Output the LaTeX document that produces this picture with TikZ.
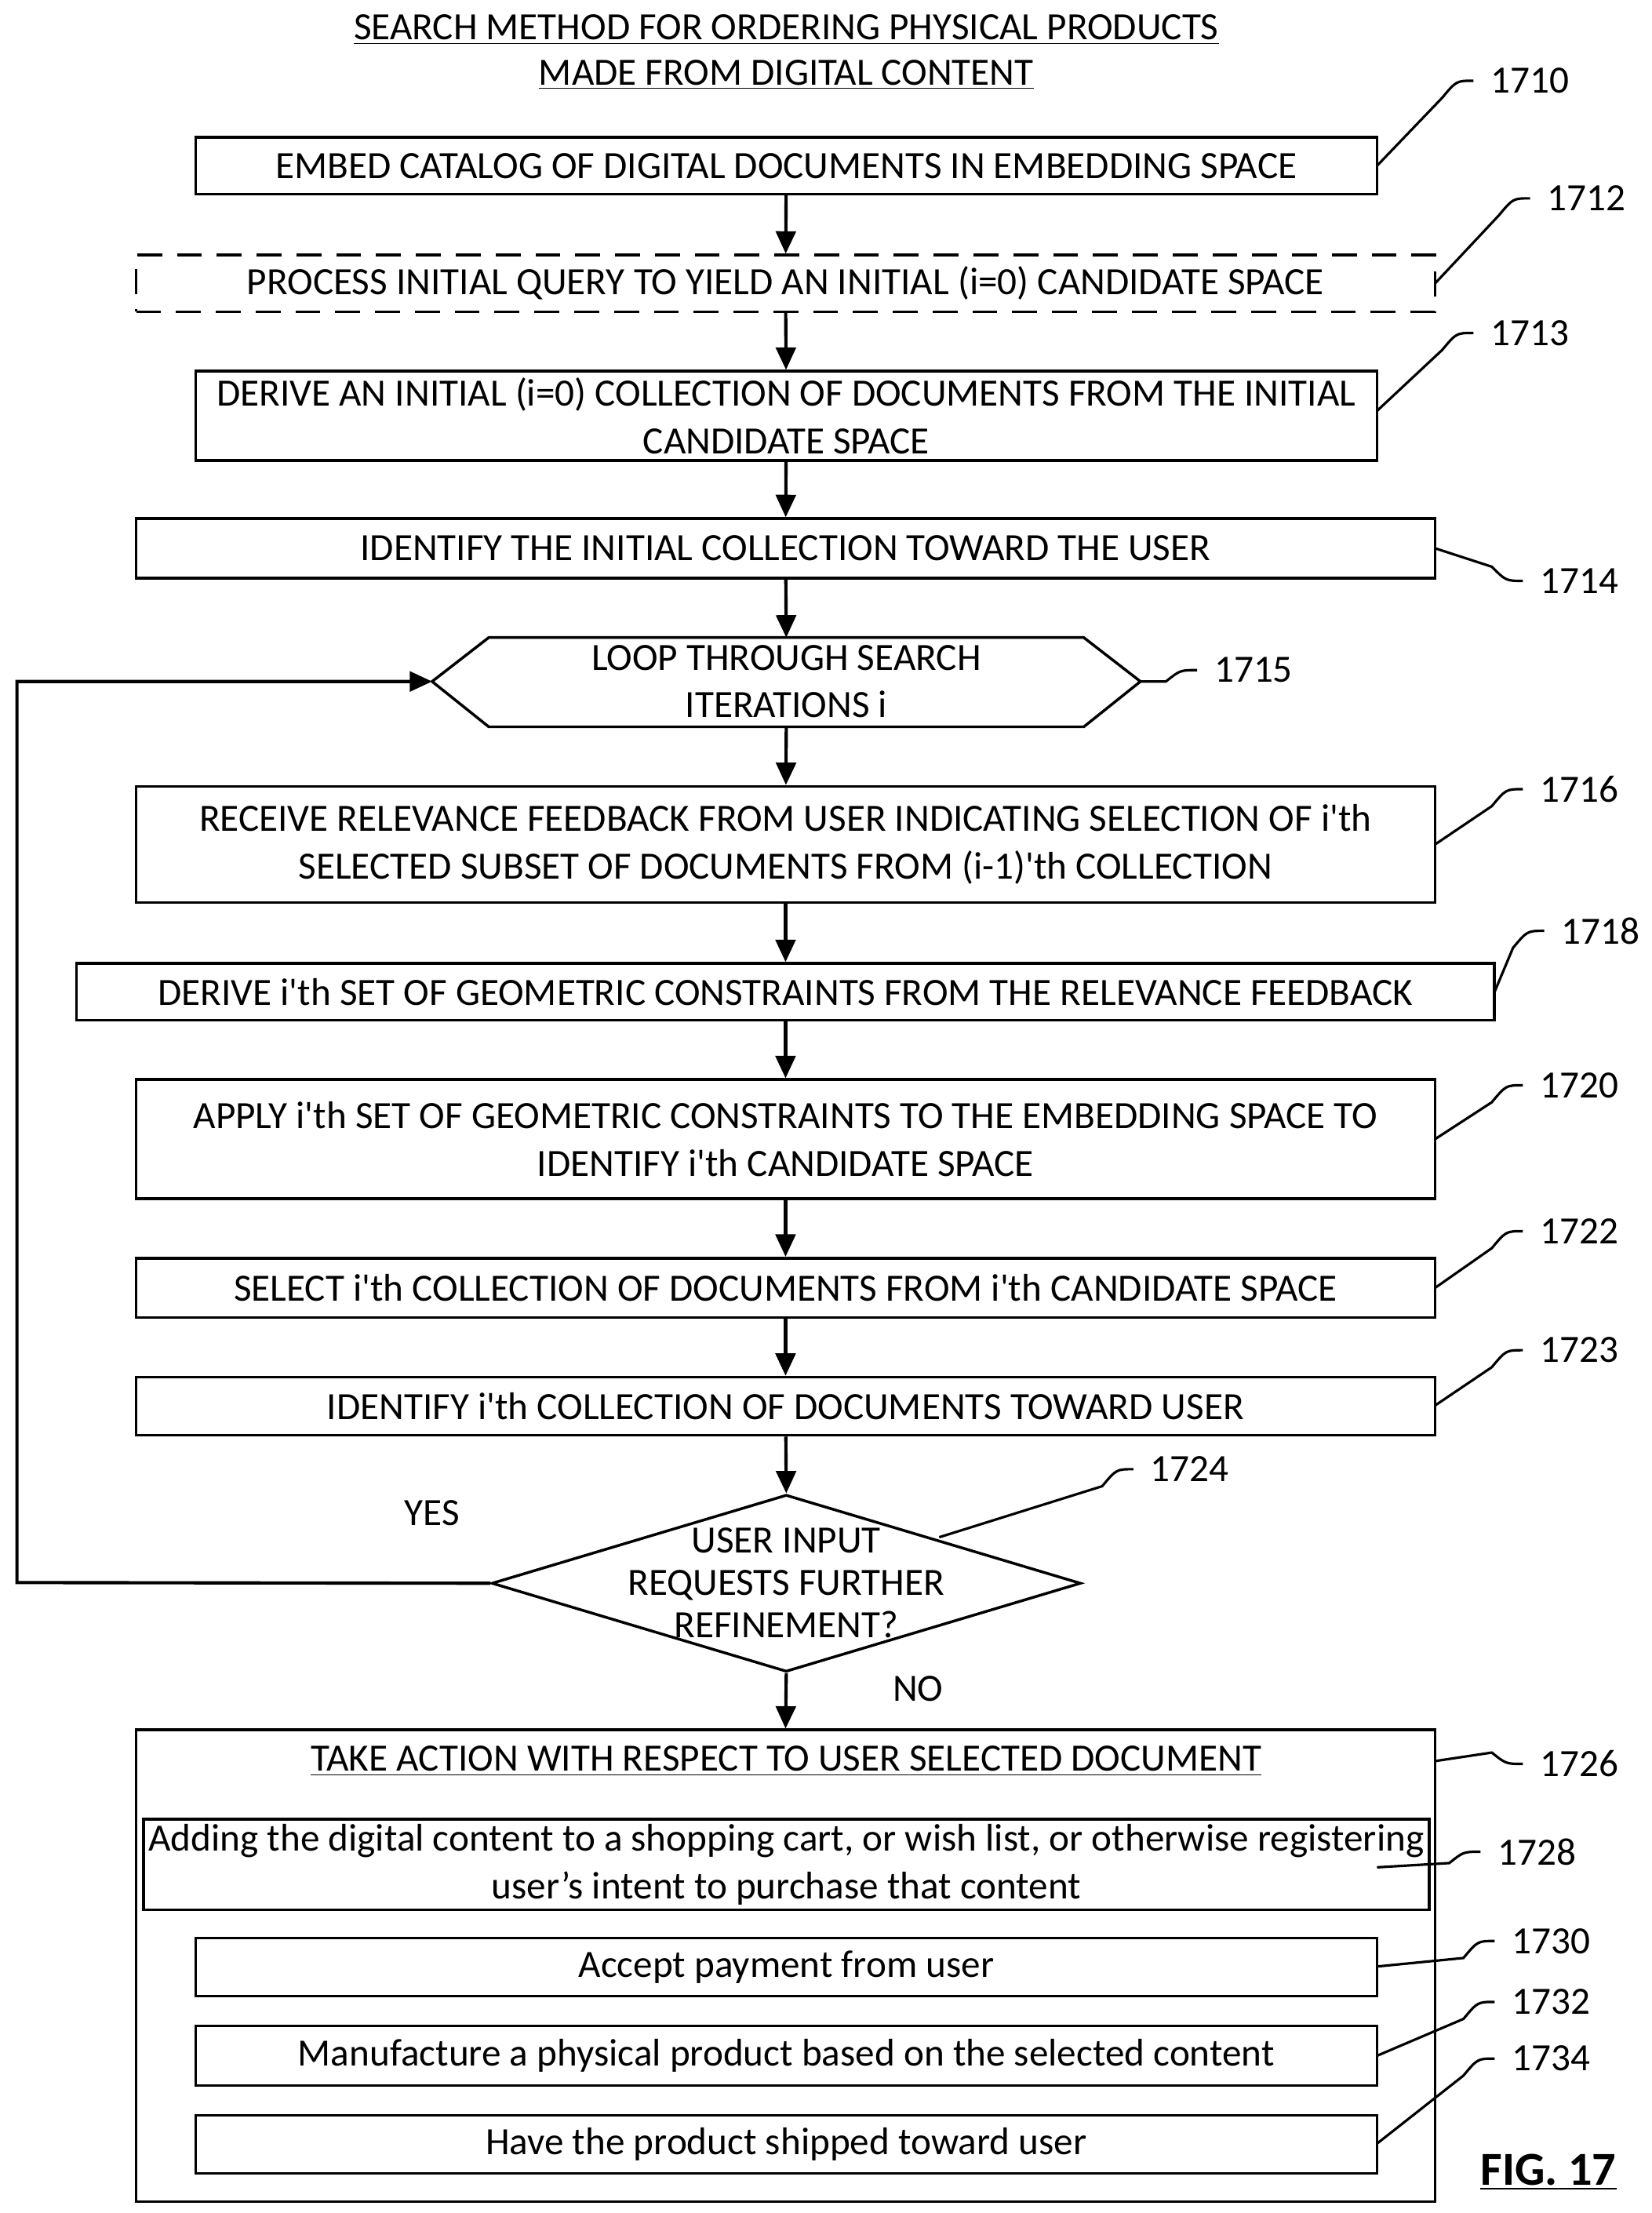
\documentclass[tikz,border=0pt]{standalone}
\usepackage{fontspec}
\setmainfont{Carlito}[Ligatures=TeXOff]
\usetikzlibrary{shapes.geometric,calc,arrows.meta}
\begin{document}
\begin{tikzpicture}[x=0.02cm,y=-0.02cm,
  box/.style={draw,line width=1.1pt,align=center,inner sep=2pt,font=\fontsize{15.5}{19}\selectfont},
  lbl/.style={anchor=west,font=\fontsize{15.5}{19}\selectfont},
  ar/.style={line width=1.3pt,-{Triangle[length=9pt,width=8pt]}},
  ld/.style={line width=1pt}]
\useasboundingbox (0,0) rectangle (1166,1562);
\newcommand\leader[6]{\draw[ld] (#1,#2) -- ($(#3,#4)+(-22,#5)$) .. controls ($(#3,#4)+(-12,0)$) .. (#3,#4); \node[lbl] at ($(#3,#4)+(6,0)$) {#6};}
\node[font=\fontsize{15.5}{19}\selectfont,align=center] (title) at (555,37) {\underline{SEARCH METHOD FOR ORDERING PHYSICAL PRODUCTS}\\[-1pt]\underline{MADE FROM DIGITAL CONTENT}};
\node[box,minimum width=16.68cm,minimum height=0.8cm] (b1710) at (555,117) {EMBED CATALOG OF DIGITAL DOCUMENTS IN EMBEDDING SPACE};
\node[box,dashed,dash pattern=on 10pt off 6pt,minimum width=18.34cm,minimum height=0.8cm] (b1712) at (554.5,200) {PROCESS INITIAL QUERY TO YIELD AN INITIAL (i=0) CANDIDATE SPACE};
\node[box,minimum width=16.68cm,minimum height=1.26cm] (b1713) at (555,293.5) {DERIVE AN INITIAL (i=0) COLLECTION OF DOCUMENTS FROM THE INITIAL\\CANDIDATE SPACE};
\node[box,minimum width=18.34cm,minimum height=0.84cm] (b1714) at (554.5,387) {IDENTIFY THE INITIAL COLLECTION TOWARD THE USER};
\coordinate (hl) at (305,481); \coordinate (hr) at (805,481);
\draw[line width=1.1pt] (hl) -- (345,450) -- (765,450) -- (hr) -- (765,513) -- (345,513) -- cycle;
\node[font=\fontsize{15.5}{19}\selectfont,align=center] (b1715) at (555,481) {LOOP THROUGH SEARCH\\ITERATIONS i};
\coordinate (htop) at (555,450); \coordinate (hbot) at (555,513);
\node[box,minimum width=18.34cm,minimum height=1.64cm] (b1716) at (554.5,596) {RECEIVE RELEVANCE FEEDBACK FROM USER INDICATING SELECTION OF i'th\\SELECTED SUBSET OF DOCUMENTS FROM (i-1)'th COLLECTION};
\node[box,minimum width=20.02cm,minimum height=0.8cm] (b1718) at (554.5,700) {DERIVE i'th SET OF GEOMETRIC CONSTRAINTS FROM THE RELEVANCE FEEDBACK};
\node[box,minimum width=18.34cm,minimum height=1.68cm] (b1720) at (554.5,804) {APPLY i'th SET OF GEOMETRIC CONSTRAINTS TO THE EMBEDDING SPACE TO\\IDENTIFY i'th CANDIDATE SPACE};
\node[box,minimum width=18.34cm,minimum height=0.84cm] (b1722) at (554.5,909) {SELECT i'th COLLECTION OF DOCUMENTS FROM i'th CANDIDATE SPACE};
\node[box,minimum width=18.34cm,minimum height=0.82cm] (b1723) at (554.5,992.5) {IDENTIFY i'th COLLECTION OF DOCUMENTS TOWARD USER};
\node[draw,line width=1.1pt,diamond,minimum width=8.32cm,minimum height=2.5cm,inner sep=0pt] (d1724) at (555,1117.5) {};
\node[font=\fontsize{15.5}{19}\selectfont,align=center] (t1724) at (555,1117) {USER INPUT\\[-2pt]REQUESTS FURTHER\\[-2pt]REFINEMENT?};
\node[box,minimum width=18.34cm,minimum height=6.66cm] (b1726) at (554.5,1387.5) {};
\node[font=\fontsize{15.5}{19}\selectfont] (t1726) at (555,1243) {\underline{TAKE ACTION WITH RESPECT TO USER SELECTED DOCUMENT}};
\node[box,minimum width=16.68cm,minimum height=1.24cm] (b1728) at (555,1316) {Adding the digital content to a shopping cart, or wish list, or otherwise registering\\user’s intent to purchase that content};
\node[box,minimum width=16.68cm,minimum height=0.82cm] (b1730) at (555,1388.5) {Accept payment from user};
\node[box,minimum width=16.68cm,minimum height=0.84cm] (b1732) at (555,1451) {Manufacture a physical product based on the selected content};
\node[box,minimum width=16.68cm,minimum height=0.82cm] (b1734) at (555,1513.5) {Have the product shipped toward user};
\draw[ar] (b1710) -- (b1712);
\draw[ar] (b1712) -- (b1713);
\draw[ar] (b1713) -- (b1714);
\draw[ar] (b1714) -- (htop);
\draw[ar] (hbot) -- (b1716);
\draw[ar] (b1716) -- (b1718);
\draw[ar] (b1718) -- (b1720);
\draw[ar] (b1720) -- (b1722);
\draw[ar] (b1722) -- (b1723);
\draw[ar] (b1723) -- (d1724.north);
\draw[ar] (d1724.south) -- (b1726.north);
\coordinate (lp1) at (12,1117); \coordinate (lp2) at (12,481);
\draw[ar] (d1724.west) -- (lp1) -- (lp2) -- (hl);
\node[font=\fontsize{15.5}{19}\selectfont] (yes) at (305,1068) {YES};
\node[font=\fontsize{15.5}{19}\selectfont] (no) at (648,1192) {NO};
\leader{972}{117}{1040}{57}{12}{1710}
\leader{1013}{200}{1080}{140}{12}{1712}
\leader{972}{290}{1040}{235}{12}{1713}
\leader{1013}{387}{1075}{410}{-10}{1714}
\leader{805}{481}{845}{473}{8}{1715}
\leader{1013}{596}{1075}{557}{12}{1716}
\leader{1055}{700}{1090}{657}{12}{1718}
\leader{1013}{804}{1075}{766}{12}{1720}
\leader{1013}{909}{1075}{869}{12}{1722}
\leader{1013}{992}{1075}{953}{12}{1723}
\leader{663}{1085}{800}{1037}{12}{1724}
\leader{1013}{1243}{1075}{1245}{-8}{1726}
\leader{972}{1318}{1045}{1307}{8}{1728}
\leader{972}{1388}{1055}{1370}{12}{1730}
\leader{972}{1451}{1055}{1413}{12}{1732}
\leader{972}{1513}{1055}{1453}{12}{1734}
\node[font=\bfseries\fontsize{19}{22}\selectfont] (fig) at (1093,1533) {\underline{FIG. 17}};
\end{tikzpicture}
\end{document}
